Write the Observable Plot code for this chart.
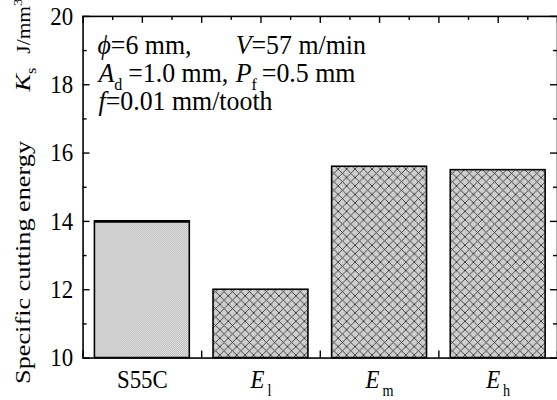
<!DOCTYPE html>
<html><head><meta charset="utf-8">
<script src="https://cdn.jsdelivr.net/npm/d3@7"></script>
<script src="https://cdn.jsdelivr.net/npm/@observablehq/plot@0.6"></script>
<style>
html,body{margin:0;padding:0;background:#fff;overflow:hidden;}
svg{display:block;overflow:visible;}
</style>
</head><body><div id="chart"></div>
<script>
// ---- data ----
const categories = ["S55C", "E_l", "E_m", "E_h"];
const energy = [14.0, 12.0, 15.6, 15.5];
const yDomain = [10, 20];
const xDomain = [0.5, 4.5];
const yMajorTicks = [10, 12, 14, 16, 18, 20];
const yMinorTicks = [11, 13, 15, 17, 19];
const xMajorTicks = [0.5, 1, 1.5, 2, 2.5, 3, 3.5, 4, 4.5];
const xMinorTicks = [0.75, 1.25, 1.75, 2.25, 2.75, 3.25, 3.75, 4.25];
// [text, style, absolute x along line, dx, font-size factor]
const yLabelParts = [["Specific cutting energy", ""], ["K", "i", 294], ["s", "sub"], ["J/mm", "", 332, null, 0.82], ["3", "sup", null, null, 0.5]];
const annotLines = [
  [["\u03D5", "i", 98], ["=6 mm,", ""], ["V", "i", 237], ["=57 m/min", ""]],
  [["A", "i", 99], ["d", "sub"], ["=1.0 mm,", "", null, 6], ["P", "i", 237], ["f", "sub"], ["=0.5 mm", "", null, 5]],
  [["f", "i", 99], ["=0.01 mm/tooth", ""]]
];

const data = categories.map((c, i) => ({name: c, pos: i + 1, value: energy[i]}));
const W = 560, H = 400, ML = 83, MR = 0, MT = 16, MB = 40.5;
const innerW = W - ML - MR, innerH = H - MT - MB;
const barWidth = 0.8;
const FONT = "Liberation Serif, Times New Roman, serif";
const STRETCH = 1.12, TITLE_STRETCH = 1.2, ANN_STRETCH = 1.04;
const TICK_FS = 23, ANN_FS = 26, TITLE_FS = 22;
const tickStyle = {stroke: "#000", strokeWidth: 1.4};

const plot = Plot.plot({
  width: W, height: H,
  marginLeft: ML, marginRight: MR, marginTop: MT, marginBottom: MB,
  style: {fontFamily: FONT, fontSize: TICK_FS + "px", color: "#000", background: "#fff"},
  x: {domain: xDomain, label: null},
  y: {domain: yDomain, label: null},
  marks: [
    // inward ticks on all four sides
    Plot.tickY(yMajorTicks, {y: d => d, insetRight: innerW - 7, ...tickStyle}),
    Plot.tickY(yMinorTicks, {y: d => d, insetRight: innerW - 4, ...tickStyle}),
    Plot.tickY(yMajorTicks, {y: d => d, insetLeft: innerW - 7, ...tickStyle}),
    Plot.tickY(yMinorTicks, {y: d => d, insetLeft: innerW - 4, ...tickStyle}),
    Plot.tickX(xMajorTicks, {x: d => d, insetBottom: innerH - 7, ...tickStyle}),
    Plot.tickX(xMinorTicks, {x: d => d, insetBottom: innerH - 4, ...tickStyle}),
    Plot.tickX(xMajorTicks, {x: d => d, insetTop: innerH - 7, ...tickStyle}),
    Plot.tickX(xMinorTicks, {x: d => d, insetTop: innerH - 4, ...tickStyle}),
    // bars
    Plot.rect(data, {filter: d => d.name === "S55C", x1: d => d.pos - barWidth / 2, x2: d => d.pos + barWidth / 2,
      y1: yDomain[0], y2: "value", fill: "url(#dots)", stroke: "#000", strokeWidth: 1.6}),
    Plot.rect(data, {filter: d => d.name !== "S55C", x1: d => d.pos - barWidth / 2, x2: d => d.pos + barWidth / 2,
      y1: yDomain[0], y2: "value", fill: "url(#hatch)", stroke: "#000", strokeWidth: 1.6}),
    // thicker top edge on the S55C bar
    Plot.ruleY(data, {filter: d => d.name === "S55C", y: "value", x1: d => d.pos - barWidth / 2,
      x2: d => d.pos + barWidth / 2, stroke: "#000", strokeWidth: 2.8}),
    // tick labels
    Plot.axisY({ticks: yMajorTicks, tickSize: 0, tickPadding: 10, fontSize: TICK_FS}),
    Plot.axisX({ticks: [1, 2, 3, 4], tickSize: 0, tickPadding: 12, fontSize: TICK_FS,
      tickFormat: i => categories[i - 1]}),
    Plot.frame({stroke: "#000", strokeWidth: 1.6})
  ]
});
document.getElementById("chart").appendChild(plot);

const svg = d3.select(plot);
// fill patterns
const defs = svg.insert("defs", ":first-child");
const dots = defs.append("pattern").attr("id", "dots").attr("patternUnits", "userSpaceOnUse")
  .attr("width", 2).attr("height", 2);
dots.append("rect").attr("width", 2).attr("height", 2).attr("fill", "#e8e8e8");
dots.append("rect").attr("width", 1).attr("height", 1).attr("fill", "#b6b6b6");
dots.append("rect").attr("x", 1).attr("y", 1).attr("width", 1).attr("height", 1).attr("fill", "#b6b6b6");
const hatch = defs.append("pattern").attr("id", "hatch").attr("patternUnits", "userSpaceOnUse")
  .attr("width", 8.5).attr("height", 8.5);
hatch.append("rect").attr("width", 8.5).attr("height", 8.5).attr("fill", "url(#dots)");
hatch.append("path").attr("d", "M0,0L8.5,8.5M-1,7.5L1,9.5M7.5,-1L9.5,1M0,8.5L8.5,0M-1,1L1,-1M7.5,9.5L9.5,7.5")
  .attr("stroke", "#262626").attr("stroke-width", 0.85).attr("fill", "none");

// rich text helper
function rich(sel, parts, size, xScale = 1) {
  sel.text(null);
  let shift = 0;
  let base = size;
  for (const [s, style, xAbs, dx, fsk] of parts) {
    const t = sel.append("tspan").text(s);
    if (xAbs != null) t.attr("x", xAbs / xScale);
    if (dx != null) t.attr("dx", dx);
    if (fsk != null && style !== "sup" && style !== "sub") base = size * fsk;
    if (style === "i") t.attr("font-style", "italic");
    let fs = base, target = 0;
    if (style === "sub") { fs = size * 0.62; target = size * 0.3; }
    if (style === "sup") { fs = base * 0.68; target = -base * 0.42; }
    if (fs !== size) t.attr("font-size", fs);
    if (target !== shift) t.attr("dy", target - shift);
    shift = target;
  }
}

// stretch a text element about its anchor
function stretch(node, sx, sy) {
  const el = d3.select(node);
  let tr = el.attr("transform") || "";
  if (!/translate/.test(tr)) {
    const x = +el.attr("x") || 0, y = +el.attr("y") || 0;
    el.attr("x", null).attr("y", null);
    tr = `translate(${x},${y}) ` + tr;
  }
  el.attr("transform", tr + ` scale(${sx},${sy})`);
}

// x tick labels with italic E and subscripts
svg.selectAll('g[aria-label="x-axis tick label"] text').each(function() {
  const s = d3.select(this).text();
  if (s.includes("_")) {
    const [a, b] = s.split("_");
    rich(d3.select(this), [[a, "i"], [b, "sub", null, 3]], TICK_FS);
  }
  stretch(this, 1, STRETCH);
});
svg.selectAll('g[aria-label="y-axis tick label"] text').each(function() { stretch(this, 1, STRETCH); });

// y-axis title (rotated)
const yl = svg.append("text")
  .attr("transform", `translate(30,386) rotate(-90) scale(${TITLE_STRETCH},1)`)
  .attr("text-anchor", "start")
  .attr("font-family", FONT).attr("font-size", TITLE_FS).attr("fill", "#000");
rich(yl, yLabelParts, TITLE_FS, TITLE_STRETCH);

// annotation block
annotLines.forEach((line, k) => {
  const t = svg.append("text")
    .attr("transform", `translate(0,${54 + k * 28.5}) scale(1,${ANN_STRETCH})`)
    .attr("text-anchor", "start")
    .attr("font-family", FONT).attr("font-size", ANN_FS).attr("fill", "#000");
  rich(t, line, ANN_FS);
});
</script>
</body></html>
